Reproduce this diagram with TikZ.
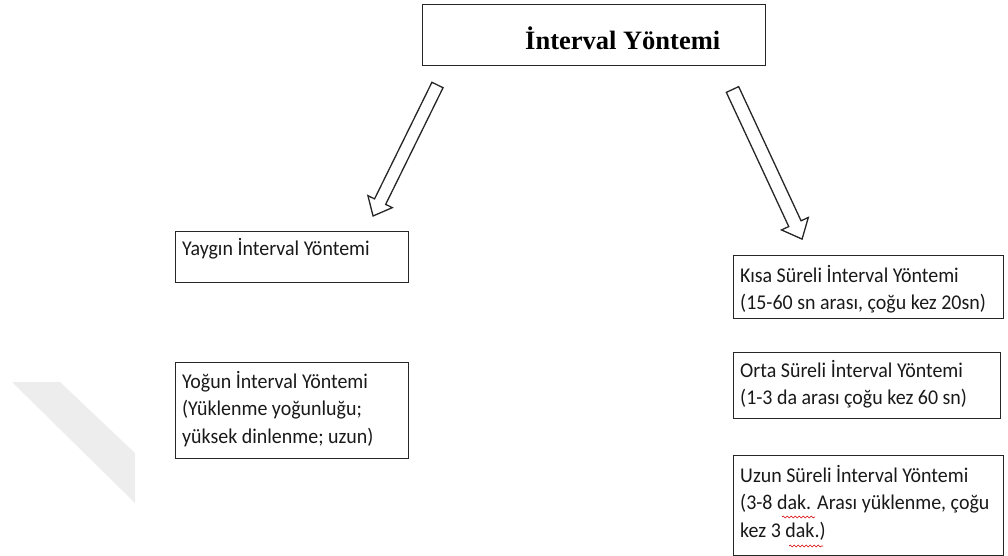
\documentclass[tikz,border=0pt]{standalone}
\usepackage{fontspec}
\setmainfont{Liberation Serif}
\newfontfamily\boxfont[FakeStretch=0.95]{Carlito}
\usetikzlibrary{calc,decorations.pathmorphing}
\begin{document}
\begin{tikzpicture}[x=1pt,y=-1pt,
  frame/.style={draw=black!85, line width=1.4pt, inner sep=0pt, anchor=north west},
  boxlabel/.style={anchor=north west, inner sep=0pt, align=left, font=\boxfont\fontsize{21}{27.5}\selectfont, text=black!90},
  blockarr/.style={draw=black!85, line width=1.3pt, fill=white, line join=miter},
  spell/.style={draw=red!85!black, line width=0.6pt, decorate, decoration={snake, amplitude=0.9pt, segment length=4pt}}]
\useasboundingbox (0,0) rectangle (1008,556);
% faint watermark
\fill[black!7] (12,382) -- (60,382) -- (135,453) -- (135,503) -- cycle;
% title
\node[frame, minimum width=343pt, minimum height=61pt] (title) at (422,4) {};
\node[anchor=base west, inner sep=0pt, font=\bfseries\fontsize{26.5}{30}\selectfont] (titletext) at (525,50) {İnterval Yöntemi};
% block arrows
\begin{scope}[shift={(437.5,85)}, rotate=-116.2]
  \draw[blockarr] (0,6.2) -- (130,6.2) -- (130,13.6) -- (146,0) -- (130,-13.6) -- (130,-6.2) -- (0,-6.2) -- cycle;
\end{scope}
\begin{scope}[shift={(732.5,89.5)}, rotate=-65.06]
  \draw[blockarr] (0,6.8) -- (148,6.8) -- (148,14.8) -- (165,0) -- (148,-14.8) -- (148,-6.8) -- (0,-6.8) -- cycle;
\end{scope}
% left boxes
\node[frame, minimum width=233pt, minimum height=51pt] (yaygin) at (175,231) {};
\node[boxlabel] (yaygintext) at ($(yaygin.north west)+(7,7)$) {Yaygın İnterval Yöntemi};
\node[frame, minimum width=233pt, minimum height=96pt] (yogun) at (175,362) {};
\node[boxlabel] (yoguntext) at ($(yogun.north west)+(7,9)$) {Yoğun İnterval Yöntemi\\(Yüklenme yoğunluğu;\\yüksek dinlenme; uzun)};
% right boxes
\node[frame, minimum width=270pt, minimum height=63pt] (kisa) at (733,255) {};
\node[boxlabel] (kisatext) at ($(kisa.north west)+(7,10)$) {Kısa Süreli İnterval Yöntemi\\(15-60 sn arası, çoğu kez 20sn)};
\node[frame, minimum width=267pt, minimum height=66pt] (orta) at (733,352) {};
\node[boxlabel] (ortatext) at ($(orta.north west)+(7,8)$) {Orta Süreli İnterval Yöntemi\\(1-3 da arası çoğu kez 60 sn)};
\node[frame, minimum width=270pt, minimum height=100pt] (uzun) at (733,455) {};
\node[boxlabel] (uzuntext) at ($(uzun.north west)+(7,10)$) {Uzun Süreli İnterval Yöntemi\\(3-8 dak. Arası yüklenme, çoğu\\kez 3 dak.)};
% spell-check marks
\coordinate (s1a) at (782,517); \coordinate (s1b) at (815,517);
\coordinate (s2a) at (789,546); \coordinate (s2b) at (823,546);
\draw[spell] (s1a) -- (s1b);
\draw[spell] (s2a) -- (s2b);
\end{tikzpicture}
\end{document}
